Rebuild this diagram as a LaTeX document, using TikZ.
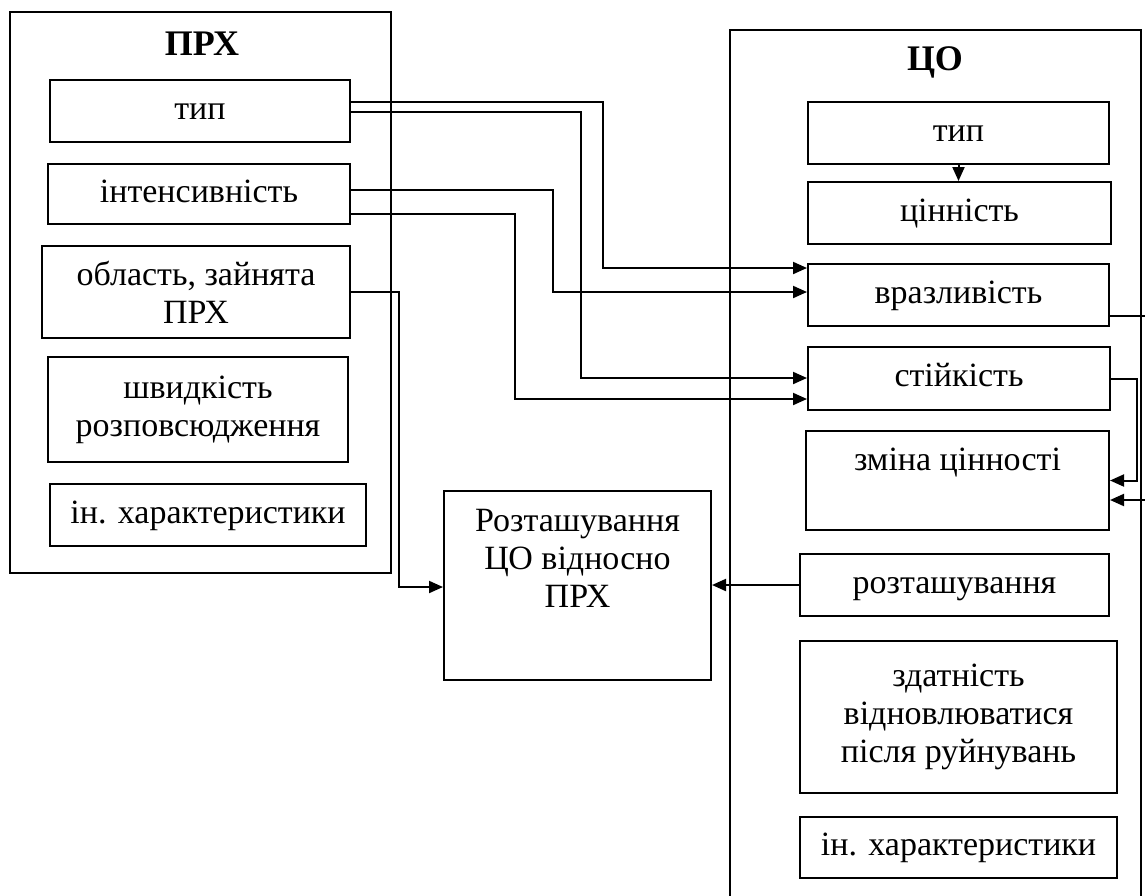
\documentclass[tikz,border=0pt]{standalone}
\usepackage{fontspec}
\setmainfont{Liberation Serif}
\usetikzlibrary{arrows.meta}

\tikzset{
  boite/.style={draw, rectangle, line width=1pt, align=center, inner sep=1pt},
  ligne/.style={text height=11pt, text depth=3pt},
  cadre/.style={draw, rectangle, line width=1pt, inner sep=0pt},
  titre/.style={font=\bfseries\fontsize{18}{20}\selectfont},
  lien/.style={line width=1pt},
  fleche/.style={line width=1pt, -{Triangle[length=7pt,width=6pt]}},
}

\begin{document}
\begin{tikzpicture}[x=0.5pt,y=-0.5pt,font=\fontsize{17}{19}\selectfont]
\useasboundingbox (0,0) rectangle (1145,895);

		% cadres et titres
		\node (node prx) at(200.5,292.5) [cadre,minimum width=190.5pt,minimum height=280.5pt] {} ;
		\node (node co) at(935.5,470) [cadre,minimum width=205.5pt,minimum height=440pt] {} ;
		\node (titre prx) at(202,44) [titre] {ПРХ} ;
		\node (titre co) at(935,62) [titre] {ЦО} ;

		% boites de gauche
		\node (node tip1) at(200,111) [boite,ligne,minimum width=150pt,minimum height=31pt] {тип} ;
		\node (node inten) at(199,194) [boite,ligne,minimum width=151pt,minimum height=30pt] {інтенсивність} ;
		\node (node oblast) at(196,292) [boite,minimum width=154pt,minimum height=46pt] {область, зайнята\\ПРХ} ;
		\node (node shvyd) at(198,409.5) [boite,minimum width=150pt,minimum height=52.5pt] {швидкість\\розповсюдження} ;
		\node (node char1) at(208,515) [boite,ligne,minimum width=158pt,minimum height=31pt] {ін. характеристики} ;

		% boite du milieu (texte en haut)
		\node (node rozt) at(577.5,585.5) [boite,text height=21.5pt,text depth=0pt,minimum width=133.5pt,minimum height=94.5pt] {Розташування\\ЦО відносно\\ПРХ} ;

		% boites de droite
		\node (node tip2) at(958.5,133) [boite,ligne,minimum width=150.5pt,minimum height=31pt] {тип} ;
		\node (node tsinn) at(959.5,213) [boite,ligne,minimum width=151.5pt,minimum height=31pt] {цінність} ;
		\node (node vraz) at(958.5,295) [boite,ligne,minimum width=150.5pt,minimum height=31pt] {вразливість} ;
		\node (node stiik) at(959,378.5) [boite,ligne,minimum width=151pt,minimum height=31.5pt] {стійкість} ;
		\node (node zmina) at(957.5,480.5) [boite,text height=8pt,text depth=18.5pt,minimum width=151.5pt,minimum height=49.5pt] {зміна цінності} ;
		\node (node roztash) at(954.5,585) [boite,ligne,minimum width=154.5pt,minimum height=31pt] {розташування} ;
		\node (node zdatn) at(958.5,717) [boite,minimum width=158.5pt,minimum height=76pt] {здатність\\відновлюватися\\після руйнувань} ;
		\node (node char2) at(958.5,847.5) [boite,ligne,minimum width=158.5pt,minimum height=30.5pt] {ін. характеристики} ;

		% bouts libres au bord droit
		\coordinate (sortie) at(1146,316) ;
		\coordinate (entree) at(1146,500) ;

		% liens ПРХ -> ЦО
		\draw[fleche] ([yshift=4.5pt]node tip1.east) -- ++(252,0) |- ([yshift=13.5pt]node vraz.west) ;
		\draw[fleche] ([yshift=-0.5pt]node tip1.east) -- ++(230,0) |- ([yshift=0.25pt]node stiik.west) ;
		\draw[fleche] ([yshift=2pt]node inten.east) -- ++(202,0) |- ([yshift=1.5pt]node vraz.west) ;
		\draw[fleche] ([yshift=-10pt]node inten.east) -- ++(164,0) |- ([yshift=-10.25pt]node stiik.west) ;
		\draw[fleche] (node oblast.east) -- ++(48,0) |- ([yshift=-0.75pt]node rozt.west) ;

		% liens dans ЦО
		\draw[fleche] (node roztash.west) -- (node roztash.west -| node rozt.east) ;
		\draw[fleche] (node tip2.south) -- (node tip2.south |- node tsinn.north) ;
		\draw[fleche] (node stiik.east) -- ++(26,0) |- (node zmina.east) ;
		\draw[lien] (node vraz.east |- sortie) -- (sortie) ;
		\draw[fleche] (entree) -- (entree -| node zmina.east) ;
\end{tikzpicture}
\end{document}
